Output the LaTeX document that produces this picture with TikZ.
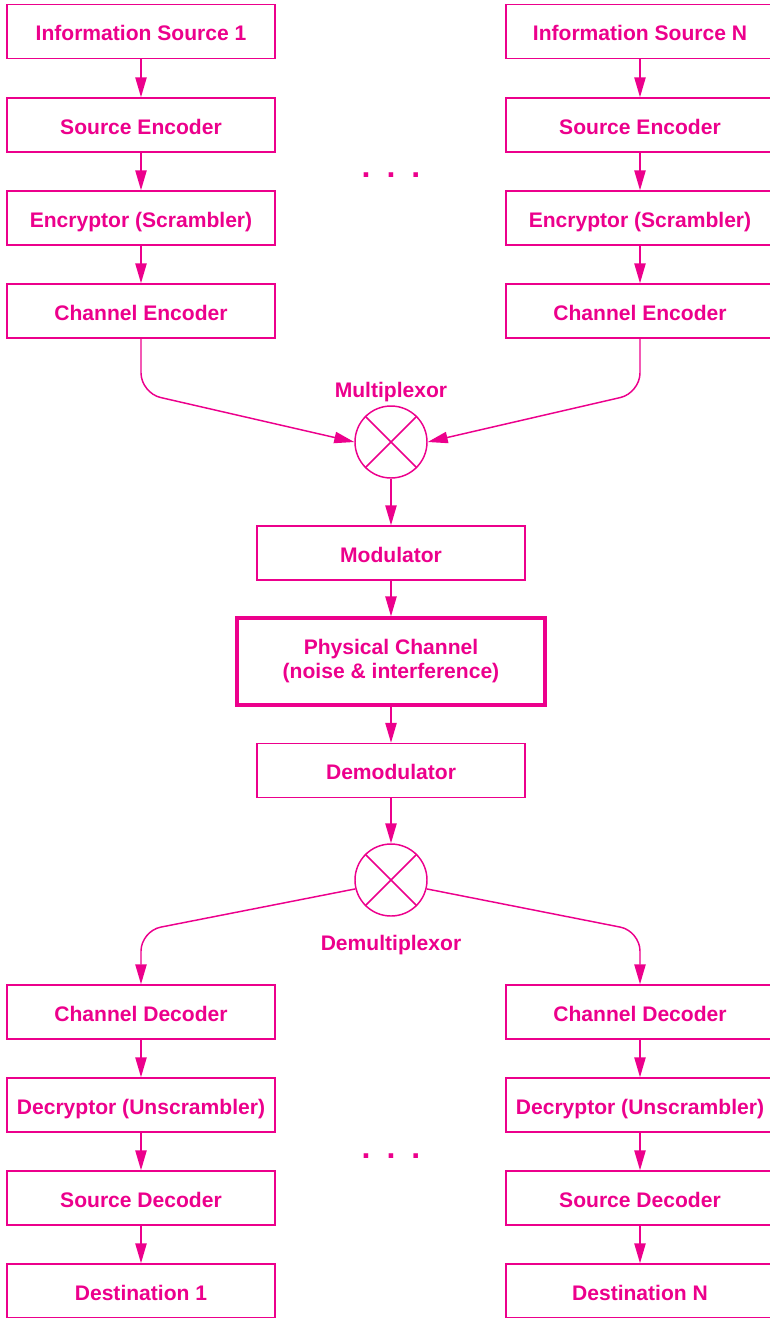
\documentclass[tikz,border=0pt]{standalone}
\usepackage{fontspec}
\setmainfont{Liberation Sans}
\usetikzlibrary{arrows.meta}
\definecolor{pinkline}{RGB}{236,0,140}

\begin{document}
\begin{tikzpicture}[x=0.75pt,y=0.75pt,yscale=-1,xscale=1,
    boxbase/.style={draw=pinkline, line width=1.1pt, inner sep=0pt, text=pinkline, font=\fontsize{15.8}{18}\selectfont\bfseries},
    blockbox/.style={boxbase, minimum width=201pt, minimum height=40.5pt, text height=13.5pt, text depth=0pt},
    chanbox/.style={boxbase, line width=2.5pt, minimum width=231pt, minimum height=65.25pt, align=center},
    mixer/.style={draw=pinkline, line width=1.1pt, circle, minimum size=54pt, inner sep=0pt},
    tag/.style={text=pinkline, font=\fontsize{15.8}{18}\selectfont\bfseries},
    dotrow/.style={text=pinkline, font=\fontsize{24}{28}\selectfont\bfseries, anchor=base},
    flow/.style={draw=pinkline, line width=1.1pt, -{Triangle[length=15pt, width=8.5pt]}}
  ]
  \useasboundingbox (0,0) rectangle (769,1318);

  %Transmitter side, left column
  \node[blockbox] (src1) at (141,31.5) {Information Source 1};
  \node[blockbox] (senc1) at (141,125) {Source Encoder};
  \node[blockbox] (encr1) at (141,218) {Encryptor (Scrambler)};
  \node[blockbox] (cenc1) at (141,311) {Channel Encoder};
  %Transmitter side, right column
  \node[blockbox] (srcN) at (640,31.5) {Information Source N};
  \node[blockbox] (sencN) at (640,125) {Source Encoder};
  \node[blockbox] (encrN) at (640,218) {Encryptor (Scrambler)};
  \node[blockbox] (cencN) at (640,311) {Channel Encoder};
  \node[dotrow] (dotsT) at (391,177.5) {.\hspace{12pt}.\hspace{12pt}.};

  %Multiplexor
  \node[mixer] (mux) at (391,442) {};
  \draw[pinkline, line width=1.1pt] (mux.45) -- (mux.225) (mux.135) -- (mux.315);
  \node[tag] (muxlabel) at (391,392) {Multiplexor};

  %Middle chain
  \node[blockbox] (mod) at (391,553) {Modulator};
  \node[chanbox] (chan) at (391,661.5) {Physical Channel\\(noise \& interference)};
  \node[blockbox] (demod) at (391,770.5) {Demodulator};

  %Demultiplexor
  \node[mixer] (demux) at (391,880) {};
  \draw[pinkline, line width=1.1pt] (demux.45) -- (demux.225) (demux.135) -- (demux.315);
  \node[tag] (demuxlabel) at (391,945) {Demultiplexor};

  %Receiver side, left column
  \node[blockbox] (cdec1) at (141,1012) {Channel Decoder};
  \node[blockbox] (decr1) at (141,1105) {Decryptor (Unscrambler)};
  \node[blockbox] (sdec1) at (141,1198) {Source Decoder};
  \node[blockbox] (dst1) at (141,1291) {Destination 1};
  %Receiver side, right column
  \node[blockbox] (cdecN) at (640,1012) {Channel Decoder};
  \node[blockbox] (decrN) at (640,1105) {Decryptor (Unscrambler)};
  \node[blockbox] (sdecN) at (640,1198) {Source Decoder};
  \node[blockbox] (dstN) at (640,1291) {Destination N};
  \node[dotrow] (dotsB) at (391,1158.5) {.\hspace{12pt}.\hspace{12pt}.};

  %Straight Lines
  \draw[flow] (src1) -- (senc1);
  \draw[flow] (senc1) -- (encr1);
  \draw[flow] (encr1) -- (cenc1);
  \draw[flow] (srcN) -- (sencN);
  \draw[flow] (sencN) -- (encrN);
  \draw[flow] (encrN) -- (cencN);
  \draw[flow] (mux) -- (mod);
  \draw[flow] (mod) -- (chan);
  \draw[flow] (chan) -- (demod);
  \draw[flow] (demod) -- (demux);
  \draw[flow] (cdec1) -- (decr1);
  \draw[flow] (decr1) -- (sdec1);
  \draw[flow] (sdec1) -- (dst1);
  \draw[flow] (cdecN) -- (decrN);
  \draw[flow] (decrN) -- (sdecN);
  \draw[flow] (sdecN) -- (dstN);

  %Bent Lines
  \coordinate (bendTL) at (141,393);
  \coordinate (bendTR) at (640,393);
  \coordinate (bendBL) at (141,931);
  \coordinate (bendBR) at (640,931);
  \draw[flow, rounded corners=15pt] (cenc1.south) -- (bendTL) -- (mux.west);
  \draw[flow, rounded corners=15pt] (cencN.south) -- (bendTR) -- (mux.east);
  \draw[flow, rounded corners=15pt] (demux.194) -- (bendBL) -- (cdec1.north);
  \draw[flow, rounded corners=15pt] (demux.-14) -- (bendBR) -- (cdecN.north);

\end{tikzpicture}
\end{document}
